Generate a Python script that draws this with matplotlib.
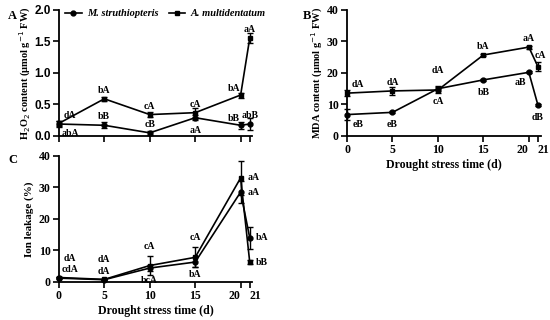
import matplotlib
matplotlib.use('Agg')
import matplotlib.pyplot as plt

# 干ばつ処理日数
days = [0, 5, 10, 15, 20, 21]
species = ['M. struthiopteris', 'A. multidentatum']

# A: H2O2 含量
h2o2_ms = [0.19, 0.17, 0.05, 0.29, 0.17, 0.19]
h2o2_ms_err = [0.05, 0.05, 0.03, 0.04, 0.06, 0.10]
h2o2_ms_lab = ['abA', 'bB', 'cB', 'aA', 'bB', 'abB']
h2o2_am = [0.20, 0.59, 0.34, 0.37, 0.65, 1.55]
h2o2_am_err = [0.04, 0.03, 0.04, 0.08, 0.04, 0.08]
h2o2_am_lab = ['dA', 'bA', 'cA', 'cA', 'bA', 'aA']

# B: MDA 含量
mda_ms = [6.8, 7.5, 15.0, 17.8, 20.2, 9.8]
mda_ms_err = [1.8, 0.3, 0.8, 0.3, 0.3, 0.3]
mda_ms_lab = ['eB', 'eB', 'cA', 'bB', 'aB', 'dB']
mda_am = [13.6, 14.3, 14.6, 25.7, 28.2, 22.0]
mda_am_err = [1.0, 1.2, 1.0, 0.3, 0.5, 1.5]
mda_am_lab = ['dA', 'dA', 'dA', 'bA', 'aA', 'cA']

# C: 電解質漏出率
ion_ms = [1.2, 0.7, 4.4, 6.3, 28.5, 14.0]
ion_ms_err = [0.3, 0.2, 1.0, 1.5, 3.5, 3.5]
ion_ms_lab = ['cdA', 'dA', 'bcA', 'bA', 'aA', 'bA']
ion_am = [1.4, 0.8, 5.2, 7.8, 33.0, 6.3]
ion_am_err = [0.3, 0.2, 3.0, 3.2, 5.3, 0.5]
ion_am_lab = ['dA', 'dA', 'cA', 'cA', 'aA', 'bB']

serif = 'Liberation Serif'
sans = 'Liberation Sans'

# ラベル位置 (points)
offsets = {
    'a': (0, 6), 'aa': (0, 14), 'b': (0, -9), 'r': (9, 0),
    'ar': (8, 6), 'aar': (8, 14), 'br': (8, -7), 'al': (-5, 5),
    'bl': (-6, -7), 'ac': (2, 8),
}


def draw(ax, y, err, labs, pos, marker):
    h = ax.errorbar(days, y, yerr=err, color='black', marker=marker, ms=3.5,
                    lw=1.2, elinewidth=1, capsize=2, capthick=1, clip_on=False,
                    zorder=3)
    for d, v, t, p in zip(days, y, labs, pos):
        ax.annotate(t, (d, v), xytext=offsets[p], textcoords='offset points',
                    ha='center', va='center', fontsize=7, fontweight='bold',
                    family=serif)
    return h


def style(ax, ymax, ystep, tickfont, xlabels=True):
    ax.set_xlim(0, 21.3)
    ax.set_ylim(0, ymax)
    ax.set_xticks(days)
    ax.set_yticks([i * ystep for i in range(int(round(ymax / ystep)) + 1)])
    for s in ['top', 'right']:
        ax.spines[s].set_visible(False)
    for s in ['left', 'bottom']:
        ax.spines[s].set_linewidth(1.3)
    ax.tick_params(width=1.2, length=4, direction='out', labelsize=8.5, pad=2)
    if xlabels:
        ax.set_xticklabels(['0', '5', '10', '15', '20', '21'])
        ax.set_xlabel('Drought stress time (d)', fontsize=8.5, fontweight='bold',
                      family=serif, labelpad=2)
    else:
        ax.set_xticklabels([])
    for t in ax.get_xticklabels() + ax.get_yticklabels():
        t.set_fontweight('bold')
        t.set_family(tickfont)
    if xlabels:
        lbls = ax.get_xticklabels()
        lbls[4].set_ha('right')
        lbls[5].set_ha('left')


fig = plt.figure(figsize=(5.5, 3.2), dpi=100)
axA = fig.add_axes([0.107, 0.575, 0.352, 0.394])
axB = fig.add_axes([0.631, 0.575, 0.352, 0.394])
axC = fig.add_axes([0.107, 0.119, 0.352, 0.394])

# A
hA1 = draw(axA, h2o2_ms, h2o2_ms_err, h2o2_ms_lab, ['br', 'a', 'a', 'b', 'al', 'a'], 'o')
hA2 = draw(axA, h2o2_am, h2o2_am_err, h2o2_am_lab, ['ar', 'a', 'a', 'a', 'al', 'a'], 's')
style(axA, 2.0, 0.5, sans, xlabels=False)
axA.set_yticklabels(['0.0', '0.5', '1.0', '1.5', '2.0'])
axA.set_ylabel('H$_2$O$_2$ content (μmol g$^{-1}$ FW)', fontsize=7.5,
               fontweight='bold', family=serif, labelpad=1)
axA.legend([hA1[0], hA2[0]], species, ncol=2, frameon=False,
           loc='lower left', bbox_to_anchor=(0.01, 0.9), handlelength=1.6,
           handletextpad=0.5, columnspacing=1.0, borderaxespad=0,
           prop={'family': serif, 'style': 'italic', 'weight': 'bold', 'size': 7.5})

# B
draw(axB, mda_ms, mda_ms_err, mda_ms_lab, ['br', 'b', 'b', 'b', 'bl', 'b'], 'o')
draw(axB, mda_am, mda_am_err, mda_am_lab, ['ar', 'a', 'aa', 'a', 'a', 'ac'], 's')
style(axB, 40, 10, serif)
axB.set_ylabel('MDA content (μmol g$^{-1}$ FW)', fontsize=7.5,
               fontweight='bold', family=serif, labelpad=1)

# C
draw(axC, ion_ms, ion_ms_err, ion_ms_lab, ['ar', 'a', 'b', 'b', 'r', 'r'], 'o')
draw(axC, ion_am, ion_am_err, ion_am_lab, ['aar', 'aa', 'aa', 'aa', 'r', 'r'], 's')
style(axC, 40, 10, serif)
axC.set_ylabel('Ion leakage (%)', fontsize=8, fontweight='bold',
               family=serif, labelpad=3)

# パネル記号
fig.text(0.015, 0.94, 'A', fontsize=9, fontweight='bold', family=serif)
fig.text(0.55, 0.94, 'B', fontsize=9, fontweight='bold', family=serif)
fig.text(0.015, 0.49, 'C', fontsize=9, fontweight='bold', family=serif)

fig.savefig('out.png', dpi=100)
